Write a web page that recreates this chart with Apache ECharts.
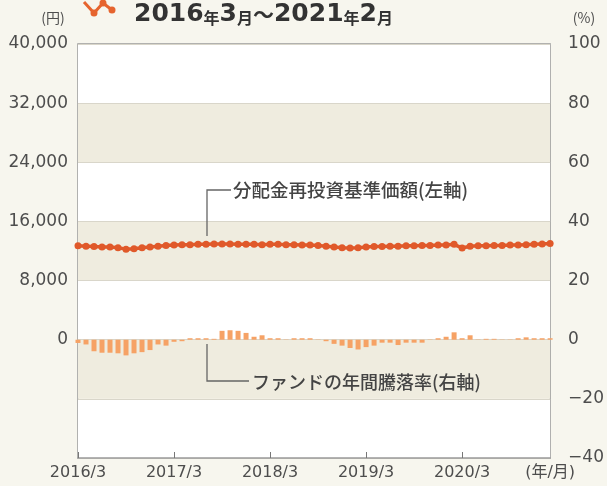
<!DOCTYPE html>
<html>
<head>
<meta charset="utf-8">
<script src="https://cdn.jsdelivr.net/npm/echarts@6/dist/echarts.min.js"></script>
<style>
  html, body { margin: 0; padding: 0; background: #f7f6ee; }
  #chart { width: 607px; height: 486px; }
</style>
</head>
<body>
<div id="chart"></div>
<script>
// 月次（2016/3〜2021/2）
const months = [
  '2016/3', '2016/4', '2016/5', '2016/6', '2016/7', '2016/8', '2016/9', '2016/10', '2016/11', '2016/12', '2017/1', '2017/2',
  '2017/3', '2017/4', '2017/5', '2017/6', '2017/7', '2017/8', '2017/9', '2017/10', '2017/11', '2017/12', '2018/1', '2018/2',
  '2018/3', '2018/4', '2018/5', '2018/6', '2018/7', '2018/8', '2018/9', '2018/10', '2018/11', '2018/12', '2019/1', '2019/2',
  '2019/3', '2019/4', '2019/5', '2019/6', '2019/7', '2019/8', '2019/9', '2019/10', '2019/11', '2019/12', '2020/1', '2020/2',
  '2020/3', '2020/4', '2020/5', '2020/6', '2020/7', '2020/8', '2020/9', '2020/10', '2020/11', '2020/12', '2021/1', '2021/2'
]

// 分配金再投資基準価額（円, 左軸）
const navValues = [
  12700, 12650, 12600, 12550, 12550, 12450, 12250, 12300, 12450, 12550, 12650, 12750,
  12800, 12850, 12850, 12900, 12900, 12950, 12950, 12950, 12900, 12900, 12900, 12850,
  12900, 12900, 12850, 12850, 12800, 12800, 12750, 12650, 12550, 12450, 12400, 12450,
  12550, 12600, 12600, 12650, 12650, 12700, 12700, 12750, 12750, 12800, 12800, 12900,
  12400, 12650, 12700, 12700, 12750, 12750, 12800, 12800, 12850, 12900, 12950, 13000
]

// ファンドの年間騰落率（%, 右軸）
const yearlyReturn = [
  -1.1, -1.6, -3.9, -4.4, -4.4, -4.6, -5.3, -4.6, -4.2, -3.5, -1.6, -2.0,
  -0.7, -0.5, 0.5, 0.5, 0.5, 0.3, 3.0, 3.2, 3.0, 2.3, 1.0, 1.5,
  0.5, 0.5, 0.1, 0.5, 0.5, 0.5, 0.1, -0.5, -1.4, -2.0, -2.8, -3.3,
  -2.5, -2.0, -1.0, -1.0, -1.8, -1.0, -1.0, -1.0, 0.1, 0.5, 1.0, 2.5,
  0.5, 1.5, 0.1, 0.3, 0.3, 0.1, 0.1, 0.5, 0.8, 0.5, 0.5, 0.5
]

const textColor = '#4d4d4d'
const numFont = 'DejaVu Sans'
const jpFont = 'Noto Sans CJK JP'

const chart = echarts.init(document.getElementById('chart'))
chart.setOption({
  backgroundColor: '#f7f6ee',
  animation: false,
  grid: {
    left: 78,
    right: 54,
    top: 44,
    bottom: 28,
    show: true,
    borderColor: '#9a9a9a',
    borderWidth: 1.5,
    backgroundColor: 'transparent'
  },
  xAxis: {
    type: 'category',
    data: months,
    boundaryGap: false,
    axisLine: { onZero: false, lineStyle: { color: '#9a9a9a', width: 1.5 } },
    axisTick: {
      inside: true,
      length: 6,
      interval: 11,
      lineStyle: { color: '#777' }
    },
    axisLabel: {
      interval: (i) => i % 12 === 0 || i === 59,
      formatter: (v, i) => (i === 59 ? '(年/月)' : v),
      color: textColor,
      fontFamily: numFont + ',' + jpFont,
      fontSize: 16,
      margin: 7
    },
    splitLine: { show: false }
  },
  yAxis: [
    {
      type: 'value',
      min: -16000,
      max: 40000,
      interval: 8000,
      axisLine: { show: false },
      axisTick: { show: false },
      axisLabel: {
        formatter: (v) => (v < 0 ? '' : v.toLocaleString('en-US')),
        color: textColor,
        fontFamily: numFont,
        fontSize: 17,
        margin: 10
      },
      splitLine: { show: true, lineStyle: { color: '#d9d6ca', width: 1 } },
      splitArea: { show: true, areaStyle: { color: ['#ffffff', '#efecdf'] } }
    },
    {
      type: 'value',
      min: -40,
      max: 100,
      interval: 20,
      axisLine: { show: false },
      axisTick: { show: false },
      axisLabel: {
        formatter: (v) => (v < 0 ? '\u2212' + Math.abs(v) : String(v)),
        color: textColor,
        fontFamily: numFont,
        fontSize: 17,
        margin: 18
      },
      splitLine: { show: false }
    }
  ],
  series: [
    {
      name: 'ファンドの年間騰落率',
      type: 'bar',
      yAxisIndex: 1,
      data: yearlyReturn,
      barWidth: 5,
      itemStyle: { color: '#f6a265' },
      z: 2
    },
    {
      name: '分配金再投資基準価額',
      type: 'line',
      yAxisIndex: 0,
      data: navValues,
      symbol: 'circle',
      symbolSize: 7,
      showSymbol: true,
      showAllSymbol: true,
      lineStyle: { color: '#e0592a', width: 3.5 },
      itemStyle: { color: '#e0592a' },
      z: 3
    }
  ],
  graphic: [
    // タイトル上のアイコン
    {
      type: 'polyline',
      z: 100,
      shape: { points: [[84, 2], [94, 13], [103, 3], [112, 10]] },
      style: { stroke: '#e6642e', lineWidth: 3, fill: null }
    },
    { type: 'circle', z: 100, shape: { cx: 94, cy: 13, r: 3.5 }, style: { fill: '#e6642e' } },
    { type: 'circle', z: 100, shape: { cx: 103, cy: 3, r: 3.5 }, style: { fill: '#e6642e' } },
    { type: 'circle', z: 100, shape: { cx: 112, cy: 10, r: 3.5 }, style: { fill: '#e6642e' } },
    {
      type: 'text',
      z: 100,
      left: 134,
      top: 2,
      style: {
        text: '{n|2016}{k|年}{n|3}{k|月}{t|～}{n|2021}{k|年}{n|2}{k|月}',
        rich: {
          n: { fontSize: 25, fontWeight: 'bold', fontFamily: 'DejaVu Sans', fill: '#333' },
          k: { fontSize: 16, fontWeight: 'bold', fontFamily: jpFont, fill: '#333', padding: [7, 0, 0, 0] },
          t: { fontSize: 21, fontWeight: 'bold', fontFamily: jpFont, fill: '#333' }
        }
      }
    },
    {
      type: 'text',
      z: 100,
      x: 53, y: 18,
      style: { text: '(円)', fontSize: 14, fontFamily: jpFont, fill: textColor, align: 'center', verticalAlign: 'middle' }
    },
    {
      type: 'text',
      z: 100,
      x: 584, y: 18,
      style: { text: '(%)', fontSize: 14, fontFamily: jpFont, fill: textColor, align: 'center', verticalAlign: 'middle' }
    },
    // 注記（左軸）
    {
      type: 'polyline',
      z: 100,
      shape: { points: [[207, 236], [207, 190], [231, 190]] },
      style: { stroke: '#666', lineWidth: 1.3, fill: null }
    },
    {
      type: 'text',
      z: 100,
      x: 233, y: 190,
      style: { text: '分配金再投資基準価額(左軸)', fontSize: 18.5, fontWeight: 500, fontFamily: jpFont, fill: '#444', verticalAlign: 'middle' }
    },
    // 注記（右軸）
    {
      type: 'polyline',
      z: 100,
      shape: { points: [[207, 344], [207, 381], [249, 381]] },
      style: { stroke: '#666', lineWidth: 1.3, fill: null }
    },
    {
      type: 'text',
      z: 100,
      x: 252, y: 382,
      style: { text: 'ファンドの年間騰落率(右軸)', fontSize: 18, fontWeight: 500, fontFamily: jpFont, fill: '#444', verticalAlign: 'middle' }
    }
  ]
})
</script>
</body>
</html>
